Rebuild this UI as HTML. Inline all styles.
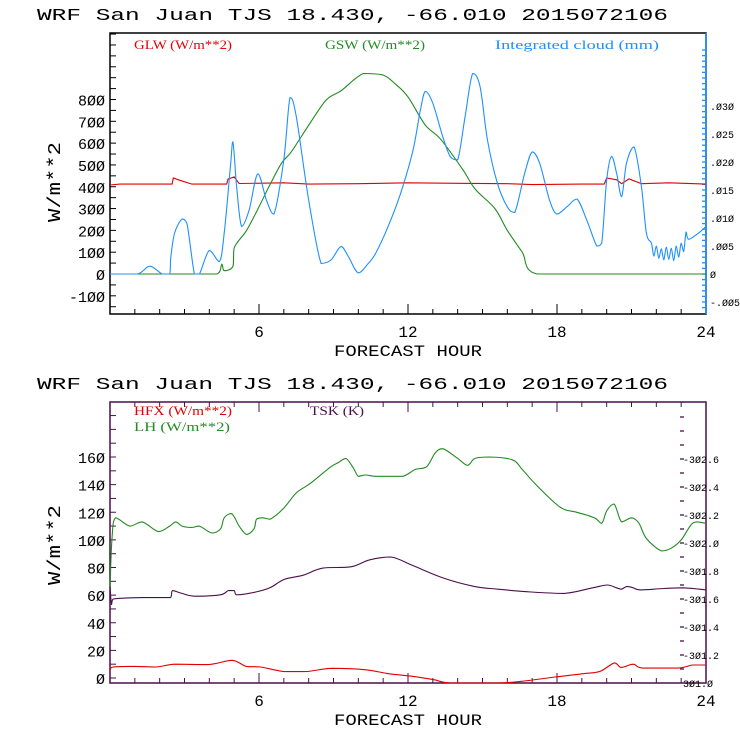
<!DOCTYPE html>
<html><head><meta charset="utf-8"><style>
html,body{margin:0;padding:0;background:#fff;}
svg{display:block;}
.t{font-family:"Liberation Mono",monospace;}
.l{font-family:"Liberation Serif",serif;font-size:13px;}
</style></head><body>
<svg id="c" width="740" height="740" xmlns="http://www.w3.org/2000/svg"></svg>
<script>
// ---------- DATA ----------
const gswHours=[0,4.3,4.5,4.6,4.95,5.0,5.5,6.0,6.4,6.9,7.3,8.0,8.7,9.3,10.2,11.0,11.5,12.0,12.7,13.3,14.2,14.7,15.5,16.0,16.6,17.2,24];
const gswVals=[0,0,45,15,35,120,200,308,400,507,560,682,797,840,919,912,870,812,682,620,480,390,300,200,100,0,0];
const glwHours=[0,0.4,2.5,2.55,2.8,3.3,4.7,4.75,5.0,5.2,7.0,8.0,10.0,12.0,14.0,16.0,17.0,19.0,19.9,20.0,20.4,20.6,20.9,21.4,22.5,24];
const glwVals=[408,412,412,440,430,412,412,435,445,415,418,412,414,418,416,414,410,412,412,440,432,414,436,414,418,412];
const cloudHours=[0,1.1,1.6,2.1,2.4,2.45,2.6,2.9,3.1,3.4,3.6,4.0,4.4,4.6,4.85,4.95,5.1,5.3,5.6,5.95,6.3,6.6,7.0,7.25,7.5,8.0,8.5,8.9,9.3,9.6,10.0,10.4,10.7,11.2,11.7,12.2,12.5,12.7,13.0,13.4,13.7,14.0,14.3,14.6,14.9,15.2,15.6,16.0,16.3,16.7,17.0,17.3,17.7,18.0,18.4,18.8,19.2,19.6,19.8,20.0,20.2,20.4,20.6,20.8,21.1,21.4,21.6,21.8,21.9,22.0,22.1,22.2,22.3,22.4,22.5,22.6,22.7,22.8,22.9,23.0,23.1,23.2,23.3,23.7,24.0];
const cloudVals=[0,0,1.4,0,0,3,7.3,9.8,9.0,0,0,4.2,2.2,7.3,19.2,23.6,15.6,8.5,11.4,17.9,13.2,10.7,20.4,31.5,28.1,13.2,1.9,2.5,4.9,3.1,0.2,1.9,3.7,8.5,14.4,22.1,29.3,32.6,30.5,24.5,21,20.4,28.1,35.8,33.5,23.9,16.2,12,11,18,21.8,19.8,13.2,10.7,12,13.4,9.6,5,5.5,16.8,21,18,13.8,19.8,22.7,15.6,7.3,5.5,3.2,5,2.8,4.5,2.5,4.8,2.6,4.6,2.4,5.0,3,5.5,4,7.5,6.2,7.3,8.5];
const yTicksTop=[-100,0,100,200,300,400,500,600,700,800];
const rTicksTop=[-0.005,0,0.005,0.010,0.015,0.020,0.025,0.030];
const rLabelsTop=["-.005","0",".005",".010",".015",".020",".025",".030"];
const xTicks=[6,12,18,24];

const lhHours=[0,0.08,0.23,0.8,1.3,1.95,2.4,2.65,2.9,3.3,3.6,4.1,4.45,4.6,4.9,5.2,5.5,5.8,5.9,6.15,6.45,7.0,7.5,8.0,8.35,8.9,9.2,9.5,9.8,10.0,10.3,10.65,11.2,11.8,12.3,12.75,13.1,13.4,14.0,14.4,14.7,15.3,16.2,16.6,17.15,17.9,18.3,18.8,19.5,19.8,20.0,20.3,20.6,21.0,21.3,21.6,22.2,22.6,23.0,23.4,23.65,24];
const lhVals=[64,101,116,110,113,106,110,113,110,109,110,105,108,116,119,110,104,108,115,116,115,123,134,140,145,153,156,159,152,146,147,146,146,146,151,153,163,166,159,154,159,160,158,151,140,127,122,120,116,112,121,126,113,116,112,101,92,94,100,111,113,112];
const hfxHours=[0,0.13,0.99,1.85,2.62,3.96,4.91,5.49,6.06,7.02,7.97,8.93,10.27,11.22,12.18,13.04,13.71,15.62,16.58,17.92,19.06,19.73,20.31,20.59,21.07,21.45,22.89,23.46,24];
const hfxVals=[6,8,8.4,8,10,9.7,12.8,8.4,8,4.6,4.8,7,6,3.1,1.2,-1.2,-3.6,-3.6,-2.4,0.7,3.1,4.8,10.9,7.7,10,7.2,7.2,9.4,9.4];
const tskHours=[0,0.06,0.13,1.28,2.43,2.52,2.9,3.38,4.44,4.76,5.0,5.1,5.87,6.44,7.02,7.78,8.55,9.7,10.46,11.32,12.18,13.42,14.66,15.62,16.96,18.3,19.44,20.02,20.4,20.59,20.82,21.07,21.36,22.32,23.08,24];
const tskVals=[301.69,301.56,301.6,301.61,301.61,301.66,301.64,301.62,301.63,301.66,301.66,301.63,301.65,301.68,301.74,301.77,301.82,301.83,301.88,301.90,301.84,301.75,301.69,301.67,301.65,301.64,301.68,301.70,301.68,301.67,301.69,301.68,301.665,301.675,301.68,301.665];
const yTicksBot=[0,20,40,60,80,100,120,140,160];
const rTicksBot=[301.0,301.2,301.4,301.6,301.8,302.0,302.2,302.4,302.6];
const rLabelsBot=["301.0","-301.2","-301.4","-301.6","-301.8","-302.0","-302.2","-302.4","-302.6"];

// ---------- HELPERS ----------
const svg=document.getElementById('c');
const NS='http://www.w3.org/2000/svg';
function mk(tag,attrs,parent){const e=document.createElementNS(NS,tag);for(const k in attrs)e.setAttribute(k,attrs[k]);(parent||svg).appendChild(e);return e;}
function txt(s,attrs,parent){const e=mk('text',attrs,parent);e.textContent=s;return e;}
const X0=110,X1=706;
const xs=h=>X0+(X1-X0)*h/24;
function lin(d0,d1,p0,p1){return v=>p0+(v-d0)*(p1-p0)/(d1-d0);}
function clamp(v,a,b){const lo=Math.min(a,b),hi=Math.max(a,b);return Math.min(Math.max(v,lo),hi);}
function path(hs,vs,sy,color,name,g,smooth){
  const P=hs.map((h,i)=>[xs(h),sy(vs[i])]);
  let d='M'+P[0][0].toFixed(1)+','+P[0][1].toFixed(1);
  for(let i=1;i<P.length;i++){
    if(!smooth){d+='L'+P[i][0].toFixed(1)+','+P[i][1].toFixed(1);continue;}
    const p0=P[Math.max(0,i-2)],p1=P[i-1],p2=P[i],p3=P[Math.min(P.length-1,i+1)];
    const c1=[p1[0]+(p2[0]-p0[0])/6,p1[1]+(p2[1]-p0[1])/6];
    const c2=[p2[0]-(p3[0]-p1[0])/6,p2[1]-(p3[1]-p1[1])/6];
    c1[0]=clamp(c1[0],p1[0],p2[0]);c2[0]=clamp(c2[0],p1[0],p2[0]);
    c1[1]=clamp(c1[1],p1[1],p2[1]);c2[1]=clamp(c2[1],p1[1],p2[1]);
    d+='C'+c1[0].toFixed(1)+','+c1[1].toFixed(1)+' '+c2[0].toFixed(1)+','+c2[1].toFixed(1)+' '+p2[0].toFixed(1)+','+p2[1].toFixed(1);
  }
  const p=mk('path',{d:d,fill:'none',stroke:color,'stroke-width':1.1},g);
  
  
}

function panel(o){
  const g=mk('g',{});
  
  
  const t=txt('WRF  San Juan TJS  18.430, -66.010  2015072106',{x:37,y:o.top-13,'font-size':17,class:'t',textLength:631,lengthAdjust:'spacingAndGlyphs','xml:space':'preserve'},g);
  
  
  const b=mk('rect',{x:X0,y:o.top,width:X1-X0,height:o.bot-o.top,fill:'none',stroke:o.box,'stroke-width':1.5},g);
  
  
  if(o.rcol){const r=mk('line',{x1:X1,x2:X1,y1:o.top,y2:o.bot,stroke:o.rcol,'stroke-width':1.5},g);}
  for(let h=1;h<24;h++){const maj=h%6==0;mk('line',{x1:xs(h),x2:xs(h),y1:o.bot,y2:o.bot-(maj?10:5),stroke:o.box},g);
    if(o.topTicks)mk('line',{x1:xs(h),x2:xs(h),y1:o.top,y2:o.top+(maj?10:5),stroke:o.box},g);}
  xTicks.forEach(h=>{const e=txt(String(h),{x:xs(h),y:o.bot+23,'font-size':16,class:'t','text-anchor':'middle'},g);
    
    });
  const xt=txt('FORECAST HOUR',{x:408,y:o.bot+42,'font-size':16,class:'t','text-anchor':'middle',textLength:148,lengthAdjust:'spacingAndGlyphs'},g);
  
  
  for(let v=o.lmin;v<=o.lmax+1e-9;v+=o.lminor){const y=o.sl(v);if(y<o.top+1||y>o.bot-1)continue;mk('line',{x1:X0,x2:X0+6,y1:y,y2:y,stroke:o.box},g);}
  o.lticks.forEach(v=>{const e=txt(String(v).replace(/0/g,'\u00d8'),{x:105,y:o.sl(v)+6,'font-size':15,class:'t','text-anchor':'end'},g);
    
    });
  const yt=txt('W/m**2',{x:0,y:0,'font-size':18,class:'t','text-anchor':'middle',transform:`translate(${o.ytx},${o.yty}) rotate(-90)`,textLength:80,lengthAdjust:'spacingAndGlyphs'},g);
  
  
  for(let v=o.rmin;v<=o.rmax+1e-9;v+=o.rminor){const y=o.sr(v);if(y<o.top+1||y>o.bot-1)continue;mk('line',{x1:o.rtx,x2:o.rtx+4,y1:y,y2:y,stroke:o.rtcol,'stroke-width':1.3},g);}
  o.rticks.forEach((v,i)=>{const e=txt(o.rlabels[i],{x:o.rlx,y:o.sr(v)+4,'font-size':10,class:'t'},g);
    
    });
  return g;
}

// ---------- TOP PANEL ----------
const syT=lin(0,800,274,99.5);
const srT=lin(0,0.030,274,106);
const gT=panel({name:'radiation-panel',top:33,bot:314,box:'#000',rcol:'#1e90ff',topTicks:false,sl:syT,lmin:-150,lmax:1100,lminor:50,lticks:yTicksTop,ytx:60,yty:182,sr:srT,rmin:-0.007,rmax:0.04,rminor:0.001,rtcol:'#1e90ff',rtx:702,rticks:rTicksTop,rlabels:rLabelsTop.map(s=>s.replace(/0/g,'\u00d8')),rlx:710});
path(glwHours,glwVals,syT,'#e00000','glw-line',gT,false);
path(gswHours,gswVals,syT,'#228b22','gsw-line',gT,true);
path(cloudHours,cloudVals.map(v=>v/1000),srT,'#1e90ff','cloud-line',gT,true);
[['GLW (W/m**2)',134,98,'#e00000','legend-glw'],['GSW (W/m**2)',325,100,'#228b22','legend-gsw'],['Integrated cloud (mm)',495,164,'#1e90ff','legend-cloud']].forEach(a=>{
  const e=txt(a[0],{x:a[1],y:49,fill:a[3],class:'l',textLength:a[2],lengthAdjust:'spacingAndGlyphs'},gT);
  
  });

// ---------- BOTTOM PANEL ----------
const syB=lin(0,160,678,457);
const srB=lin(301.0,302.6,683,459);
const gB=panel({name:'flux-panel',top:402,bot:683,box:'#4b0f4b',rcol:null,topTicks:true,sl:syB,lmin:0,lmax:200,lminor:10,lticks:yTicksBot,ytx:60,yty:545,sr:srB,rmin:301.0,rmax:303.0,rminor:0.1,rtcol:'#4b0f4b',rtx:680,rticks:rTicksBot,rlabels:rLabelsBot.map(s=>s.replace(/0/g,'\u00d8')),rlx:683});
path(lhHours,lhVals,syB,'#228b22','lh-line',gB,true);
path(tskHours,tskVals,srB,'#4b0f4b','tsk-line',gB,true);
path(hfxHours,hfxVals,syB,'#e00000','hfx-line',gB,true);
[['HFX (W/m**2)',134,415,98,'#e00000','legend-hfx'],['LH  (W/m**2)',134,431,96,'#228b22','legend-lh'],['TSK (K)',310,415,54,'#4b0f4b','legend-tsk']].forEach(a=>{
  const e=txt(a[0],{x:a[1],y:a[2],fill:a[4],class:'l','xml:space':'preserve',textLength:a[3],lengthAdjust:'spacingAndGlyphs'},gB);
  
  });
</script>
</body></html>
